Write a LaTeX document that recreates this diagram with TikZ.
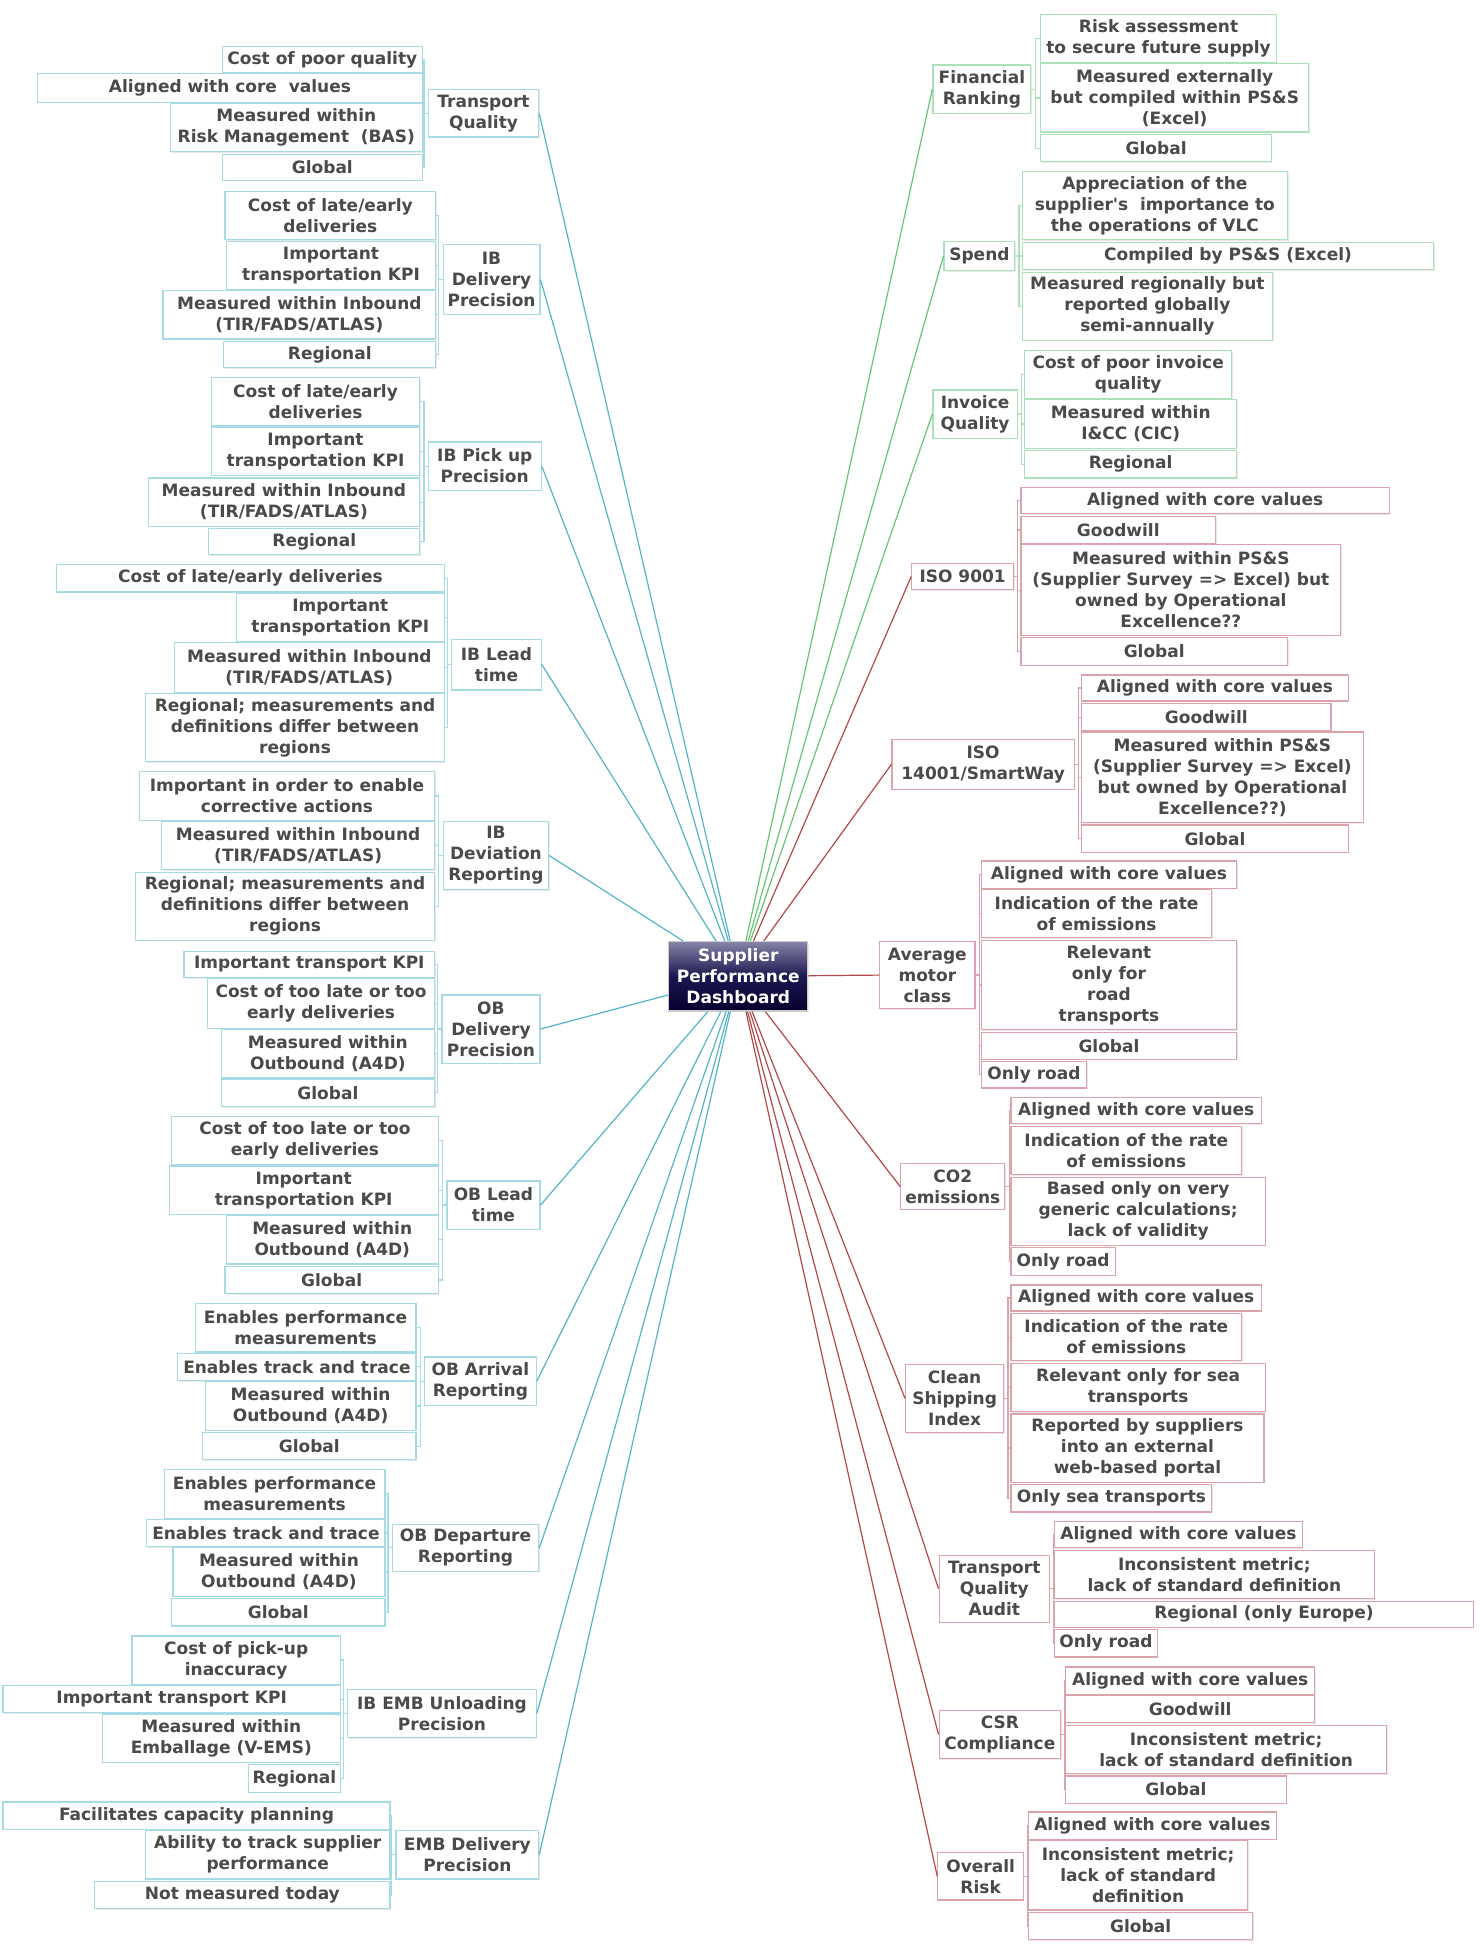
\documentclass[tikz,border=0pt]{standalone}
\usepackage{fontspec}
\setmainfont{DejaVu Sans}
\usepackage{tikz}
\usetikzlibrary{shadows}
\definecolor{txt}{HTML}{4A4A4A}
\definecolor{lline}{HTML}{55B3C9}
\definecolor{lbord}{HTML}{A6DAE4}
\definecolor{gline}{HTML}{66C476}
\definecolor{gbord}{HTML}{ACE2BA}
\definecolor{rline}{HTML}{B44848}
\definecolor{rbord}{HTML}{DDA3AA}
\tikzset{
    Box/.style = {draw, line width=1.2pt, fill=white, text=txt, align=center,
        inner sep=1pt, anchor=north west,
        font=\bfseries\fontsize{17}{21}\selectfont,
        drop shadow={shadow xshift=1pt,shadow yshift=-1pt,opacity=.18}},
    BoxL/.style = {Box, draw=lbord},
    BoxG/.style = {Box, draw=gbord},
    BoxR/.style = {Box, draw=rbord},
    sz/.style 2 args = {minimum width={#1*1.2397pt}, minimum height={#2*1.2397pt}},
    LinkL/.style = {draw=lline, line width=1.2pt},
    LinkG/.style = {draw=gline, line width=1.2pt},
    LinkR/.style = {draw=rline, line width=1.2pt},
    BraceL/.style = {draw=lbord, line width=1.2pt},
    BraceG/.style = {draw=gbord, line width=1.2pt},
    BraceR/.style = {draw=rbord, line width=1.2pt}
}

\begin{document}
\begin{tikzpicture}[x=1.2397pt,y=-1.2397pt]
    \useasboundingbox (0,0) rectangle (1193,1568);
    % hub
    \node[Box, sz={112}{56}, draw=black!20, text=white,
          top color={rgb,255:red,134;green,132;blue,168}, bottom color={rgb,255:red,6;green,0;blue,46},
          middle color={rgb,255:red,28;green,24;blue,80}] (spd) at (539,759) {Supplier\\Performance\\Dashboard};

    % left side: transport quality
    \node[BoxL, sz={89}{38}] (tq) at (345,72) {Transport\\Quality};
    \node[BoxL, sz={161}{21}] (tq1) at (179,37) {Cost of poor quality};
    \node[BoxL, sz={310}{23}] (tq2) at (30,59) {Aligned with core \ values};
    \node[BoxL, sz={203}{39}] (tq3) at (137,83) {Measured within\\Risk Management \ (BAS)};
    \node[BoxL, sz={161}{21}] (tq4) at (179,124) {Global};

    % IB delivery precision
    \node[BoxL, sz={78}{56}] (ibd) at (357,197) {IB\\Delivery\\Precision};
    \node[BoxL, sz={170}{39}] (ibd1) at (181,154) {Cost of late/early\\deliveries};
    \node[BoxL, sz={169}{39}] (ibd2) at (182,194) {Important\\transportation KPI};
    \node[BoxL, sz={220}{39}] (ibd3) at (131,234) {Measured within Inbound\\(TIR/FADS/ATLAS)};
    \node[BoxL, sz={171}{21}] (ibd4) at (180,275) {Regional};

    % IB pick up precision
    \node[BoxL, sz={91}{39}] (ibp) at (345,356) {IB Pick up\\Precision};
    \node[BoxL, sz={168}{39}] (ibp1) at (170,304) {Cost of late/early\\deliveries};
    \node[BoxL, sz={168}{39}] (ibp2) at (170,344) {Important\\transportation KPI};
    \node[BoxL, sz={219}{39}] (ibp3) at (119,385) {Measured within Inbound\\(TIR/FADS/ATLAS)};
    \node[BoxL, sz={170}{21}] (ibp4) at (168,426) {Regional};

    % IB lead time
    \node[BoxL, sz={72}{41}] (ibl) at (364,515) {IB Lead\\time};
    \node[BoxL, sz={313}{22}] (ibl1) at (45,455) {Cost of late/early deliveries};
    \node[BoxL, sz={168}{39}] (ibl2) at (190,478) {Important\\transportation KPI};
    \node[BoxL, sz={218}{40}] (ibl3) at (140,518) {Measured within Inbound\\(TIR/FADS/ATLAS)};
    \node[BoxL, sz={241}{55}] (ibl4) at (117,559) {Regional; measurements and\\definitions differ between\\regions};

    % IB deviation reporting
    \node[BoxL, sz={85}{55}] (ibdr) at (357,662) {IB\\Deviation\\Reporting};
    \node[BoxL, sz={238}{39}] (ibdr1) at (112,622) {Important in order to enable\\corrective actions};
    \node[BoxL, sz={220}{39}] (ibdr2) at (130,662) {Measured within Inbound\\(TIR/FADS/ATLAS)};
    \node[BoxL, sz={241}{55}] (ibdr3) at (109,703) {Regional; measurements and\\definitions differ between\\regions};

    % OB delivery precision
    \node[BoxL, sz={79}{55}] (obd) at (356,802) {OB\\Delivery\\Precision};
    \node[BoxL, sz={202}{21}] (obd1) at (148,767) {Important transport KPI};
    \node[BoxL, sz={183}{40}] (obd2) at (167,789) {Cost of too late or too\\early deliveries};
    \node[BoxL, sz={172}{39}] (obd3) at (178,830) {Measured within\\Outbound (A4D)};
    \node[BoxL, sz={172}{22}] (obd4) at (178,870) {Global};

    % OB lead time
    \node[BoxL, sz={75}{39}] (obl) at (360,952) {OB Lead\\time};
    \node[BoxL, sz={215}{39}] (obl1) at (138,900) {Cost of too late or too\\early deliveries};
    \node[BoxL, sz={217}{39}] (obl2) at (136,940) {Important\\transportation KPI};
    \node[BoxL, sz={171}{39}] (obl3) at (182,980) {Measured within\\Outbound (A4D)};
    \node[BoxL, sz={172}{22}] (obl4) at (181,1021) {Global};

    % OB arrival reporting
    \node[BoxL, sz={90}{39}] (oba) at (342,1094) {OB Arrival\\Reporting};
    \node[BoxL, sz={178}{39}] (oba1) at (157,1051) {Enables performance\\measurements};
    \node[BoxL, sz={192}{22}] (oba2) at (143,1091) {Enables track and trace};
    \node[BoxL, sz={170}{39}] (oba3) at (165,1114) {Measured within\\Outbound (A4D)};
    \node[BoxL, sz={172}{22}] (oba4) at (163,1155) {Global};

    % OB departure reporting
    \node[BoxL, sz={118}{38}] (obp) at (316,1229) {OB Departure\\Reporting};
    \node[BoxL, sz={178}{39}] (obp1) at (132,1185) {Enables performance\\measurements};
    \node[BoxL, sz={192}{22}] (obp2) at (118,1225) {Enables track and trace};
    \node[BoxL, sz={171}{39}] (obp3) at (139,1248) {Measured within\\Outbound (A4D)};
    \node[BoxL, sz={172}{22}] (obp4) at (138,1289) {Global};

    % IB EMB unloading precision
    \node[BoxL, sz={152}{39}] (emu) at (280,1362) {IB EMB Unloading\\Precision};
    \node[BoxL, sz={168}{39}] (emu1) at (106,1319) {Cost of pick-up\\inaccuracy};
    \node[BoxL, sz={272}{22}] (emu2) at (2,1359) {Important transport KPI};
    \node[BoxL, sz={192}{39}] (emu3) at (82,1382) {Measured within\\Emballage (V-EMS)};
    \node[BoxL, sz={74}{22}] (emu4) at (200,1423) {Regional};

    % EMB delivery precision
    \node[BoxL, sz={115}{39}] (emd) at (319,1476) {EMB Delivery\\Precision};
    \node[BoxL, sz={312}{22}] (emd1) at (2,1453) {Facilitates capacity planning};
    \node[BoxL, sz={197}{39}] (emd2) at (117,1476) {Ability to track supplier\\performance};
    \node[BoxL, sz={238}{22}] (emd3) at (76,1517) {Not measured today};

    % right side, green: financial ranking
    \node[BoxG, sz={79}{39}] (fin) at (752,52) {Financial\\Ranking};
    \node[BoxG, sz={190}{39}] (fin1) at (839,11) {Risk assessment\\to secure future supply};
    \node[BoxG, sz={216}{55}] (fin2) at (839,51) {Measured externally\\but compiled within PS\&S\\(Excel)};
    \node[BoxG, sz={186}{22}] (fin3) at (839,108) {Global};

    % spend
    \node[BoxG, sz={57}{24}] (spn) at (761,194) {Spend};
    \node[BoxG, sz={214}{55}] (spn1) at (824,138) {Appreciation of the\\supplier\textquotesingle s \ importance to\\the operations of VLC};
    \node[BoxG, sz={332}{22}] (spn2) at (824,195) {Compiled by PS\&S (Excel)};
    \node[BoxG, sz={202}{55}] (spn3) at (824,219) {Measured regionally but\\reported globally\\semi-annually};

    % invoice quality
    \node[BoxG, sz={68}{39}] (inv) at (752,314) {Invoice\\Quality};
    \node[BoxG, sz={167}{39}] (inv1) at (826,282) {Cost of poor invoice\\quality};
    \node[BoxG, sz={171}{39}] (inv2) at (826,322) {Measured within\\I\&CC (CIC)};
    \node[BoxG, sz={171}{22}] (inv3) at (826,363) {Regional};

    % right side, red: ISO 9001
    \node[BoxR, sz={82}{21}] (iso) at (735,454) {ISO 9001};
    \node[BoxR, sz={297}{21}] (iso1) at (823,393) {Aligned with core values};
    \node[BoxR, sz={157}{22}] (iso2) at (823,416) {Goodwill};
    \node[BoxR, sz={258}{73}] (iso3) at (823,439) {Measured within PS\&S\\(Supplier Survey => Excel) but\\owned by Operational\\Excellence??};
    \node[BoxR, sz={215}{22}] (iso4) at (823,514) {Global};

    % ISO 14001 / SmartWay
    \node[BoxR, sz={147}{40}] (smw) at (719,596) {ISO\\14001/SmartWay};
    \node[BoxR, sz={215}{21}] (smw1) at (872,544) {Aligned with core values};
    \node[BoxR, sz={201}{22}] (smw2) at (872,567) {Goodwill};
    \node[BoxR, sz={227}{73}] (smw3) at (872,590) {Measured within PS\&S\\(Supplier Survey => Excel)\\but owned by Operational\\Excellence??)};
    \node[BoxR, sz={215}{22}] (smw4) at (872,665) {Global};

    % average motor class
    \node[BoxR, sz={77}{54}] (amc) at (709,759) {Average\\motor\\class};
    \node[BoxR, sz={206}{22}] (amc1) at (791,694) {Aligned with core values};
    \node[BoxR, sz={186}{39}] (amc2) at (791,717) {Indication of the rate\\of emissions};
    \node[BoxR, sz={206}{72}] (amc3) at (791,758) {Relevant\\only for\\road\\transports};
    \node[BoxR, sz={206}{22}] (amc4) at (791,832) {Global};
    \node[BoxR, sz={85}{21}] (amc5) at (791,856) {Only road};

    % CO2 emissions
    \node[BoxR, sz={84}{37}] (co) at (726,938) {CO2\\emissions};
    \node[BoxR, sz={202}{21}] (co1) at (815,885) {Aligned with core values};
    \node[BoxR, sz={186}{39}] (co2) at (815,908) {Indication of the rate\\of emissions};
    \node[BoxR, sz={205}{55}] (co3) at (815,949) {Based only on very\\generic calculations;\\lack of validity};
    \node[BoxR, sz={84}{22}] (co4) at (815,1006) {Only road};

    % clean shipping index
    \node[BoxR, sz={79}{55}] (csi) at (730,1100) {Clean\\Shipping\\Index};
    \node[BoxR, sz={202}{21}] (csi1) at (815,1036) {Aligned with core values};
    \node[BoxR, sz={186}{38}] (csi2) at (815,1059) {Indication of the rate\\of emissions};
    \node[BoxR, sz={205}{39}] (csi3) at (815,1099) {Relevant only for sea\\transports};
    \node[BoxR, sz={204}{55}] (csi4) at (815,1140) {Reported by suppliers\\into an external\\web-based portal};
    \node[BoxR, sz={162}{22}] (csi5) at (815,1197) {Only sea transports};

    % transport quality audit
    \node[BoxR, sz={89}{54}] (tqa) at (757,1254) {Transport\\Quality\\Audit};
    \node[BoxR, sz={200}{21}] (tqa1) at (850,1227) {Aligned with core values};
    \node[BoxR, sz={258}{39}] (tqa2) at (850,1250) {Inconsistent metric;\\lack of standard definition};
    \node[BoxR, sz={338}{21}] (tqa3) at (850,1291) {Regional (only Europe)};
    \node[BoxR, sz={83}{22}] (tqa4) at (850,1314) {Only road};

    % CSR compliance
    \node[BoxR, sz={98}{39}] (csr) at (757,1379) {CSR\\Compliance};
    \node[BoxR, sz={201}{22}] (csr1) at (859,1344) {Aligned with core values};
    \node[BoxR, sz={201}{22}] (csr2) at (859,1367) {Goodwill};
    \node[BoxR, sz={259}{39}] (csr3) at (859,1391) {Inconsistent metric;\\lack of standard definition};
    \node[BoxR, sz={178}{22}] (csr4) at (859,1432) {Global};

    % overall risk
    \node[BoxR, sz={69}{38}] (ovr) at (756,1494) {Overall\\Risk};
    \node[BoxR, sz={200}{22}] (ovr1) at (829,1461) {Aligned with core values};
    \node[BoxR, sz={177}{56}] (ovr2) at (829,1484) {Inconsistent metric;\\lack of standard\\definition};
    \node[BoxR, sz={181}{22}] (ovr3) at (829,1542) {Global};

    % spokes to the hub
    \foreach \m in {tq,ibd,ibp,ibl,ibdr,obd,obl,oba,obp,emu,emd}
        {\draw[LinkL] (\m.east) -- (spd);}
    \foreach \m in {fin,spn,inv}
        {\draw[LinkG] (\m.west) -- (spd);}
    \foreach \m in {iso,smw,amc,co,csi,tqa,csr,ovr}
        {\draw[LinkR] (\m.west) -- (spd);}

    % brackets to the leaves
    \foreach \m/\n in {tq/4,ibd/4,ibp/4,ibl/4,ibdr/3,obd/4,obl/4,oba/4,obp/4,emu/4,emd/3}
        {\foreach \k in {1,...,\n}
            {\draw[BraceL] (\m.west) -- ++(-3,0) |- (\m\k.east);}}
    \foreach \m/\n in {fin/3,spn/3,inv/3}
        {\foreach \k in {1,...,\n}
            {\draw[BraceG] (\m.east) -- ++(3,0) |- (\m\k.west);}}
    \foreach \m/\n in {iso/4,smw/4,amc/5,co/4,csi/5,tqa/4,csr/4,ovr/3}
        {\foreach \k in {1,...,\n}
            {\draw[BraceR] (\m.east) -- ++(3,0) |- (\m\k.west);}}
\end{tikzpicture}
\end{document}
